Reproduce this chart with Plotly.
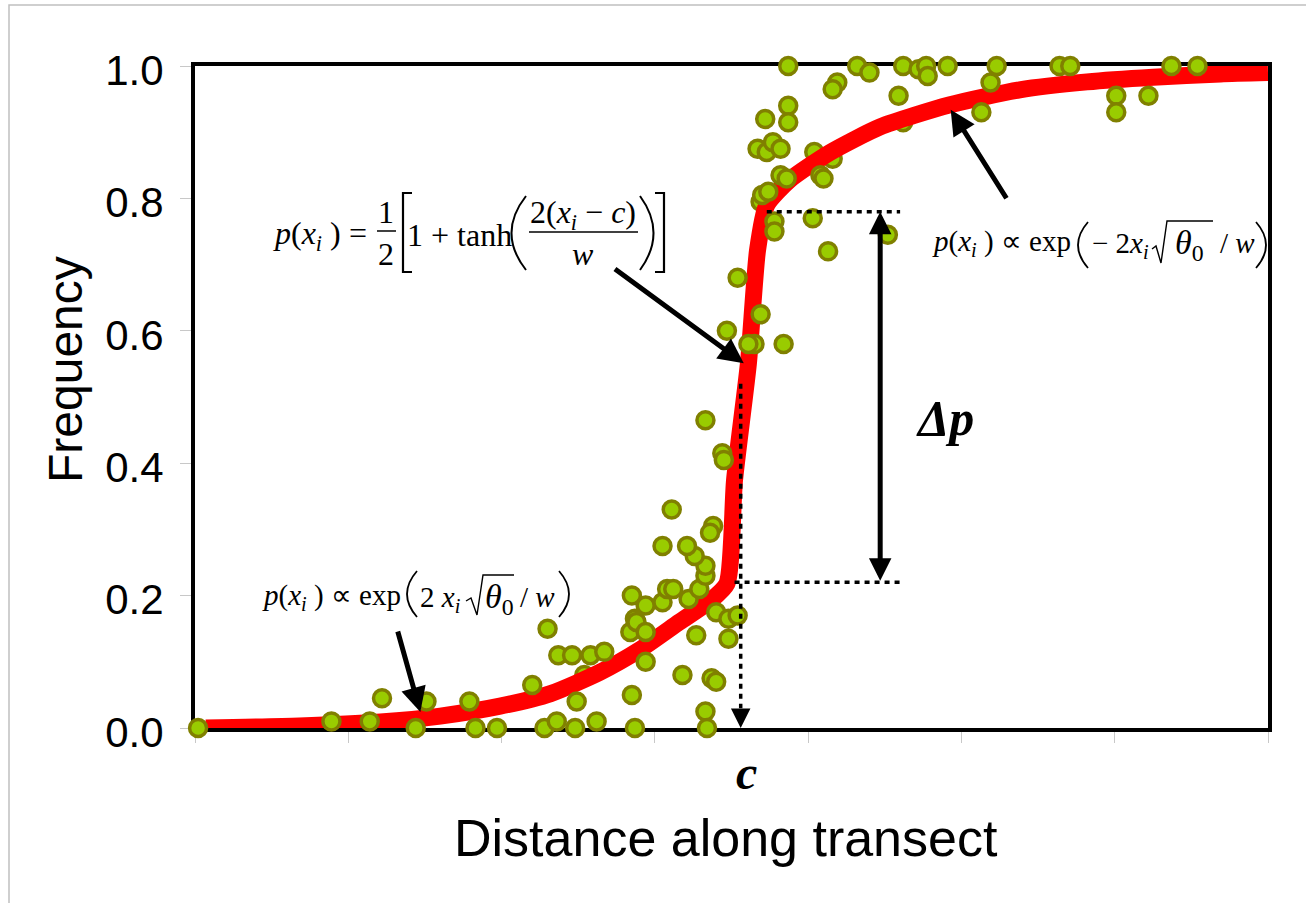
import plotly.graph_objects as go

# ---------------- data ----------------
# observed frequencies drawn above the fitted cline
dots_x = [0.02, 0.89, 1.14, 1.22, 1.44, 1.51, 1.79, 1.83, 1.97, 2.20, 2.30, 2.37, 2.46, 2.28, 2.36,
          2.48, 2.49, 2.62, 2.87, 2.58, 2.67, 2.85, 2.84, 2.87, 2.88, 2.85, 2.94, 2.94, 2.94, 3.05,
          3.08, 3.12, 3.22, 3.29, 3.33, 3.33, 3.26, 3.21, 3.05, 3.11, 3.38, 3.36, 3.40, 3.48, 3.54,
          3.27, 3.48, 3.18, 3.37, 3.40, 3.33, 3.34, 3.33, 3.44, 3.45, 3.47, 3.54, 3.69, 3.65, 3.84,
          3.61, 3.78, 3.78, 3.70, 3.74, 4.03, 4.13, 4.52, 3.82, 3.86, 4.08, 4.10, 3.67, 3.73, 3.77,
          3.82, 3.72, 3.87, 3.87, 3.87, 4.19, 4.16, 4.32, 4.40, 4.59, 4.62, 4.72, 4.77, 4.78, 4.91,
          5.13, 5.23, 5.19, 5.64, 5.71, 6.01, 6.01, 6.22, 6.37, 6.54]
dots_y = [0.00, 0.01, 0.01, 0.045, 0.00, 0.04, 0.04, 0.00, 0.00, 0.065, 0.15, 0.11, 0.11, 0.00, 0.01,
          0.00, 0.04, 0.01, 0.00, 0.11, 0.115, 0.05, 0.145, 0.165, 0.16, 0.20, 0.185, 0.145, 0.10, 0.19,
          0.21, 0.21, 0.195, 0.21, 0.23, 0.245, 0.26, 0.275, 0.275, 0.33, 0.305, 0.295, 0.175, 0.165, 0.17,
          0.14, 0.135, 0.08, 0.075, 0.07, 0.025, 0.00, 0.465, 0.415, 0.405, 0.60, 0.68, 0.625, 0.58, 0.58,
          0.58, 0.765, 0.75, 0.805, 0.81, 0.77, 0.72, 0.745, 0.835, 0.83, 0.835, 0.83, 0.875, 0.87, 0.885,
          0.875, 0.92, 0.94, 0.915, 1.00, 0.975, 0.965, 1.00, 0.99, 0.955, 1.00, 0.995, 1.00, 0.985, 1.00,
          0.93, 1.00, 0.975, 1.00, 1.00, 0.955, 0.93, 0.955, 1.00, 1.00]
# observed frequencies partly hidden under the fitted cline
under_x = [2.54, 4.04, 4.16, 4.62, 3.69]
under_y = [0.08, 0.87, 0.86, 0.915, 0.795]

# fitted cline
curve_x = [0.07, 0.68, 1.21, 1.60, 1.99, 2.32, 2.64, 2.90, 3.16, 3.36, 3.47, 3.52, 3.61, 3.67,
           3.73, 3.88, 4.14, 4.47, 4.92, 5.38, 5.82, 6.25, 6.69, 7.0]
curve_y = [0.0, 0.003, 0.009, 0.018, 0.033, 0.052, 0.084, 0.118, 0.160, 0.192, 0.218, 0.375, 0.55,
           0.722, 0.79, 0.828, 0.869, 0.908, 0.941, 0.964, 0.976, 0.983, 0.988, 0.99]

c_value = 3.56
p_low = 0.22
p_high = 0.78
dp_x = 4.47
guide_end = 4.6

y_ticks = [0.0, 0.2, 0.4, 0.6, 0.8, 1.0]
y_ticktext = ["0.0", "0.2", "0.4", "0.6", "0.8", "1.0"]
x_ticks = [0, 1, 2, 3, 4, 5, 6, 7]

# ---------------- layout helpers (page pixels -> paper) ----------------
L, R, T, B = 195, 1268, 66, 728
def xp(p):
    return (p - L) / (R - L)
def yp(p):
    return (B - p) / (B - T)

SERIF = "Liberation Serif, Times New Roman, serif"
SANS = "Liberation Sans, Arial, sans-serif"
DOT_FILL = "#99cc00"
DOT_EDGE = "#808000"

fig = go.Figure()
marker = dict(size=17, color=DOT_FILL, line=dict(color=DOT_EDGE, width=3.5))
fig.add_trace(go.Scatter(x=under_x, y=under_y, mode="markers", marker=marker,
                         cliponaxis=False, showlegend=False, hoverinfo="skip"))
fig.add_trace(go.Scatter(x=curve_x, y=curve_y, mode="lines",
                         line=dict(color="#ff0000", width=17, shape="spline", smoothing=0.6),
                         showlegend=False, hoverinfo="skip"))
fig.add_trace(go.Scatter(x=dots_x, y=dots_y, mode="markers", marker=marker,
                         cliponaxis=False, showlegend=False, hoverinfo="skip"))

shapes = []
dotline = dict(color="black", width=3.5, dash="5px,5px")
shapes.append(dict(type="line", xref="x", yref="y", x0=3.73, x1=guide_end, y0=p_high, y1=p_high, line=dotline))
shapes.append(dict(type="line", xref="x", yref="y", x0=3.52, x1=guide_end, y0=p_low, y1=p_low, line=dotline))
shapes.append(dict(type="line", xref="x", yref="y", x0=c_value, x1=c_value, y0=0.52, y1=0.03, line=dotline))
# figure border
shapes.append(dict(type="rect", xref="paper", yref="paper", x0=xp(9), x1=xp(1320), y0=yp(5), y1=yp(920),
                   line=dict(color="#c0c0c0", width=1.5), layer="below"))

def path(cmds, width=1.6):
    out = []
    for c in cmds:
        if isinstance(c, str):
            out.append(c)
        else:
            out.append("%.5f,%.5f" % (xp(c[0]), yp(c[1])))
    shapes.append(dict(type="path", xref="paper", yref="paper", path=" ".join(out),
                       line=dict(color="black", width=width)))

# formula 1 glyph strokes: fraction bars, brackets, parentheses
path(["M", (377, 231), "L", (396, 231)], 1.5)
path(["M", (529, 232), "L", (638, 232)], 1.5)
path(["M", (412, 193), "L", (403, 193), "L", (403, 272), "L", (412, 272)], 2.2)
path(["M", (655, 193), "L", (664, 193), "L", (664, 272), "L", (655, 272)], 2.2)
path(["M", (526, 196), "Q", (497, 233), (526, 270)], 2.0)
path(["M", (640, 196), "Q", (667, 233), (640, 270)], 2.0)
# formula 2 parentheses and radical
path(["M", (1088, 222), "Q", (1068, 245), (1088, 268)], 1.8)
path(["M", (1256, 222), "Q", (1276, 245), (1256, 268)], 1.8)
path(["M", (1152, 249), "L", (1156, 246), "L", (1161, 263), "L", (1167, 221), "L", (1213, 221)], 1.4)
# formula 3 parentheses and radical
path(["M", (417, 571), "Q", (397, 594), (417, 617)], 1.8)
path(["M", (559, 571), "Q", (579, 594), (559, 617)], 1.8)
path(["M", (466, 601), "L", (471, 598), "L", (477, 615), "L", (483, 575), "L", (514, 575)], 1.4)

ann = []
def txt(text, x, y, size, family=SERIF, xanchor="center", **kw):
    ann.append(dict(text=text, xref="paper", yref="paper", x=xp(x), y=yp(y), showarrow=False,
                    xanchor=xanchor, yanchor="middle", font=dict(family=family, size=size, color="black"), **kw))

# formula 1 (centre)
F1 = 32
txt("<i>p</i>(<i>x<sub>i</sub></i>&nbsp;)", 343, 236, F1, xanchor="right")
txt("=", 358, 233, F1)
txt("1", 386, 212, F1)
txt("2", 386, 254, F1)
txt("1 + tanh", 459, 235, F1)
txt("2(<i>x<sub>i</sub></i> − <i>c</i>)", 583, 214, F1)
txt("<i>w</i>", 583, 254, F1)
# formula 2 (upper right)
F2 = 29
txt("<i>p</i>(<i>x<sub>i</sub></i>&nbsp;) ∝ exp", 1073, 243, F2, xanchor="right")
txt("− 2<i>x<sub>i</sub></i>", 1090, 245, F2, xanchor="left")
txt("<i>θ</i><sub>0</sub>", 1189, 245, 34)
txt("/ <i>w</i>", 1218, 243, F2, xanchor="left")
# formula 3 (lower left)
txt("<i>p</i>(<i>x<sub>i</sub></i>&nbsp;) ∝ exp", 403, 597, F2, xanchor="right")
txt("2&nbsp;<i>x<sub>i</sub></i>", 418, 599, F2, xanchor="left")
txt("<i>θ</i><sub>0</sub>", 499, 599, 34)
txt("/ <i>w</i>", 518, 597, F2, xanchor="left")
# Δp and c
txt("<b><i>Δp</i></b>", 945, 418, 50)
txt("<b><i>c</i></b>", 746, 772, 48)
# axis titles
txt("Frequency", 66, 370, 48, family=SANS, textangle=-90)
txt("Distance along transect", 726, 838, 52, family=SANS)

def arrow(xh, yh, xt, yt, width=5, size=1.0, side="end"):
    ann.append(dict(text="", x=xh, y=yh, ax=xt, ay=yt, xref="x", yref="y", axref="x", ayref="y",
                    showarrow=True, arrowhead=2, arrowsize=size, arrowwidth=width, arrowcolor="black",
                    arrowside=side, standoff=0, startstandoff=0))

arrow(3.58, 0.551, 2.73, 0.695)
arrow(4.93, 0.934, 5.30, 0.798)
arrow(1.47, 0.024, 1.32, 0.148)
arrow(dp_x, p_high, dp_x, p_low, width=5, size=0.9, side="end+start")
arrow(c_value, 0.0, c_value, 0.03, width=3, size=1.3)

fig.update_layout(
    width=1306, height=903,
    margin=dict(l=L, r=1306 - R, t=T, b=903 - B),
    paper_bgcolor="white", plot_bgcolor="white",
    shapes=shapes, annotations=ann, showlegend=False,
    xaxis=dict(range=[0, 7], tickvals=x_ticks, showticklabels=False, ticks="outside", ticklen=11,
               tickcolor="#c8c8c8", tickwidth=1, showgrid=False, zeroline=False,
               showline=True, mirror=True, linecolor="black", linewidth=4, layer="below traces"),
    yaxis=dict(range=[0, 1], tickvals=y_ticks, ticktext=y_ticktext, ticks="outside", ticklen=11,
               tickcolor="#c8c8c8", tickwidth=1, showgrid=False, zeroline=False,
               showline=True, mirror=True, linecolor="black", linewidth=4, layer="below traces",
               tickfont=dict(family=SANS, size=42, color="black"), ticklabelstandoff=8,
               ticklabelshift=4),
)

fig.write_html("out.html", config={"displayModeBar": False},
               post_script="document.body.style.margin='0px';")
